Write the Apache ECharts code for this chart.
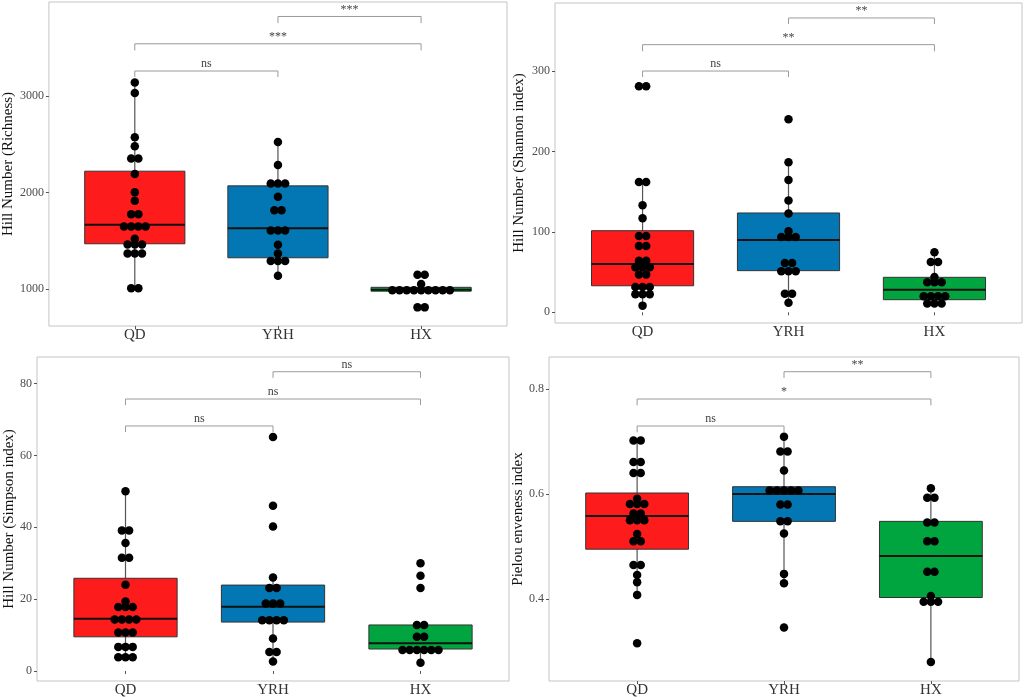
<!DOCTYPE html>
<html lang="en">
<head>
    <meta charset="UTF-8">
    <title>Hill numbers</title>
    <script type="text/javascript" src="https://cdn.jsdelivr.net/npm/echarts@6/dist/echarts.min.js"></script>
    <style>
        body{
            padding: 0px;
            margin: 0px;
            background-color: #ffffff;
        }
        #chart{
            width: 1024px;
            height: 698px;
        }
    </style>
</head>
<body>
<div id="chart"></div>
<script>
var groups = ['QD', 'YRH', 'HX'];
var boxColors = ['#fd1b1b', '#0277b4', '#01a540'];

// Richness
var richQD = [3141, 3031, 2572, 2479, 2352, 2352, 2193, 2003, 1914, 1776, 1776, 1648, 1648, 1648, 1648,
              1521, 1462, 1462, 1462, 1369, 1369, 1369, 1007, 1007];
var richYRH = [2524, 2286, 2093, 2093, 2093, 1955, 1817, 1817, 1607, 1607, 1607, 1459, 1369, 1290, 1290, 1290, 1138];
var richHX = [1148, 1148, 1052, 988, 988, 988, 988, 988, 988, 988, 988, 988, 810, 810];
// [low whisker, q1, median, q3, high whisker]
var richBox = [[1007, 1469, 1666, 2221, 3141], [1138, 1324, 1631, 2069, 2524], [978, 978, 993, 1018, 1052]];
var richSig = [[1, 2, 3259, 3197, 'ns'], [1, 3, 3541, 3472, '***'], [2, 3, 3824, 3755, '***']];
var richRange = [617, 3974];
var richTicks = [1000, 2000, 3000];

// Shannon
var shanQD = [281, 281, 162, 162, 133, 117, 95, 95, 82.5, 82.5, 64, 64, 56, 56, 56, 47, 47,
              31.5, 31.5, 31.5, 22.4, 22.4, 22.4, 8.3];
var shanYRH = [240, 186.5, 164.5, 139, 123, 100.7, 93.7, 93.7, 93.7, 61.3, 61.3, 51, 51, 51, 23.2, 23.2, 12];
var shanHX = [74.6, 62.6, 62.6, 44, 37.3, 37.3, 37.3, 20, 20, 20, 20, 10.8, 10.8, 10.8];
var shanBox = [[8.3, 33, 60, 101.5, 162], [12, 51.8, 90, 123.5, 186.5], [10.8, 15.7, 28, 43.5, 74.6]];
var shanSig = [[1, 2, 300, 292.6, 'ns'], [1, 3, 332.8, 324.5, '**'], [2, 3, 366, 358.5, '**']];
var shanRange = [-13.3, 384.6];
var shanTicks = [0, 100, 200, 300];

// Simpson
var simpQD = [50, 39.1, 39.1, 35.6, 31.5, 31.5, 24, 19.3, 17.8, 17.8, 17.8, 14.3, 14.3, 14.3, 14.3,
              10.7, 10.7, 10.7, 6.7, 6.7, 6.7, 3.8, 3.8, 3.8];
var simpYRH = [65.1, 46, 40.2, 26, 23.1, 23.1, 18.8, 18.8, 18.8, 14.1, 14.1, 14.1, 14.1, 9, 5.3, 5.3, 2.6];
var simpHX = [30, 26.5, 23.1, 12.8, 12.8, 9.5, 9.5, 5.8, 5.8, 5.8, 5.8, 5.8, 5.8, 2.3];
var simpBox = [[3.8, 9.5, 14.5, 25.8, 50], [2.6, 13.6, 17.9, 23.9, 26], [2.3, 6.1, 7.7, 12.8, 12.8]];
var simpSig = [[1, 2, 68.2, 66.5, 'ns'], [1, 3, 75.7, 74, 'ns'], [2, 3, 83.3, 81.6, 'ns']];
var simpRange = [-2.8, 87.4];
var simpTicks = [0, 20, 40, 60, 80];

// Pielou evenness
var pielQD = [0.702, 0.702, 0.661, 0.661, 0.640, 0.640, 0.591, 0.581, 0.581, 0.581, 0.563, 0.563,
              0.550, 0.550, 0.550, 0.524, 0.510, 0.510, 0.465, 0.465, 0.446, 0.432, 0.408, 0.316];
var pielYRH = [0.709, 0.681, 0.681, 0.645, 0.607, 0.607, 0.607, 0.607, 0.607, 0.580, 0.580,
               0.548, 0.548, 0.525, 0.448, 0.430, 0.346];
var pielHX = [0.611, 0.593, 0.593, 0.546, 0.546, 0.510, 0.510, 0.452, 0.452, 0.406, 0.395, 0.395, 0.395, 0.280];
var pielBox = [[0.408, 0.495, 0.558, 0.602, 0.702], [0.430, 0.548, 0.600, 0.614, 0.709], [0.280, 0.403, 0.482, 0.548, 0.611]];
var pielSig = [[1, 2, 0.7296, 0.7176, 'ns'], [1, 3, 0.781, 0.769, '*'], [2, 3, 0.833, 0.821, '**']];
var pielRange = [0.244, 0.861];
var pielTicks = [0.4, 0.6, 0.8];

var panels = [
    {title: 'Hill Number (Richness)', points: [richQD, richYRH, richHX], box: richBox, sig: richSig, range: richRange, ticks: richTicks},
    {title: 'Hill Number (Shannon index)', points: [shanQD, shanYRH, shanHX], box: shanBox, sig: shanSig, range: shanRange, ticks: shanTicks},
    {title: 'Hill Number (Simpson index)', points: [simpQD, simpYRH, simpHX], box: simpBox, sig: simpSig, range: simpRange, ticks: simpTicks},
    {title: 'Pielou enveness index', points: [pielQD, pielYRH, pielHX], box: pielBox, sig: pielSig, range: pielRange, ticks: pielTicks}
];
var layout = [
    {left: 43, top: 2, width: 464, height: 324, nameGap: 29},
    {left: 555, top: 3, width: 467, height: 320, nameGap: 28},
    {left: 37, top: 357, width: 472, height: 325, nameGap: 17},
    {left: 549, top: 357, width: 470, height: 325, nameGap: 20}
];

var FONT = "'Liberation Serif', 'Times New Roman', serif";
var BOX_WIDTH = 0.7;
var DOT_SIZE = 8.5;
var DOT_STEP = 7.2;

var chart = echarts.init(document.getElementById('chart'), null, {renderer: 'canvas'});

// dotplot: identical values are stacked sideways, centred on the group
function dotData(points) {
    var out = [];
    points.forEach(function (vals, g) {
        var counts = {};
        vals.forEach(function (v) { counts[v] = (counts[v] || 0) + 1; });
        var seen = {};
        vals.forEach(function (v) {
            var k = seen[v] || 0;
            seen[v] = k + 1;
            out.push({value: [g + 1, v], symbolOffset: [(k - (counts[v] - 1) / 2) * DOT_STEP, 0]});
        });
    });
    return out;
}

function renderBox(params, api) {
    var x = api.value(0);
    var lo = api.coord([x, api.value(1)]);
    var q1 = api.coord([x, api.value(2)]);
    var md = api.coord([x, api.value(3)]);
    var q3 = api.coord([x, api.value(4)]);
    var hi = api.coord([x, api.value(5)]);
    var hw = api.size([BOX_WIDTH, 0])[0] / 2;
    return {
        type: 'group',
        children: [
            {type: 'line', shape: {x1: lo[0], y1: lo[1], x2: hi[0], y2: hi[1]}, style: {stroke: '#555', lineWidth: 1.2}},
            {type: 'rect', shape: {x: q3[0] - hw, y: q3[1], width: hw * 2, height: q1[1] - q3[1]},
                style: {fill: boxColors[params.dataIndex], stroke: '#333', lineWidth: 1}},
            {type: 'line', shape: {x1: md[0] - hw, y1: md[1], x2: md[0] + hw, y2: md[1]}, style: {stroke: '#111', lineWidth: 2}}
        ]
    };
}

function sigRenderer(sig) {
    return function (params, api) {
        var s = sig[params.dataIndex];
        var a = api.coord([s[0], s[2]]);
        var b = api.coord([s[1], s[2]]);
        var ta = api.coord([s[0], s[3]]);
        var tb = api.coord([s[1], s[3]]);
        return {
            type: 'group',
            children: [
                {type: 'polyline', shape: {points: [ta, a, b, tb]}, style: {stroke: '#9a9a9a', lineWidth: 1, fill: null}},
                {type: 'text', x: (a[0] + b[0]) / 2, y: a[1] - 1,
                    style: {text: s[4], fill: '#444', font: '12px ' + FONT, textAlign: 'center', textVerticalAlign: 'bottom'}}
            ]
        };
    };
}

var option = {grid: [], xAxis: [], yAxis: [], series: [], animation: false};

panels.forEach(function (p, i) {
    var L = layout[i];
    option.grid.push({
        left: L.left, top: L.top, width: L.width, height: L.height,
        show: true, borderColor: '#c4c4c4', borderWidth: 1, backgroundColor: '#fff'
    });
    option.xAxis.push({
        type: 'value', gridIndex: i, min: 0.4, max: 3.6,
        axisLine: {show: false},
        splitLine: {show: false},
        axisTick: {show: true, length: 3, customValues: [1, 2, 3], lineStyle: {color: '#555'}},
        axisLabel: {
            customValues: [1, 2, 3], margin: 2,
            formatter: function (v) { return groups[Math.round(v) - 1]; },
            fontFamily: FONT, fontSize: 15, color: '#333'
        }
    });
    option.yAxis.push({
        type: 'value', gridIndex: i, min: p.range[0], max: p.range[1],
        name: p.title, nameLocation: 'middle', nameGap: L.nameGap,
        nameTextStyle: {fontFamily: FONT, fontSize: 15, color: '#111'},
        axisLine: {show: false},
        splitLine: {show: false},
        axisTick: {show: true, length: 3, customValues: p.ticks, lineStyle: {color: '#555'}},
        axisLabel: {
            customValues: p.ticks, margin: 5,
            formatter: function (v) { return String(Math.round(v * 100) / 100); },
            fontFamily: FONT, fontSize: 12, color: '#4d4d4d'
        }
    });
    option.series.push({
        type: 'custom', xAxisIndex: i, yAxisIndex: i,
        renderItem: renderBox,
        data: p.box.map(function (b, g) { return [g + 1].concat(b); }),
        z: 2
    });
    option.series.push({
        type: 'scatter', xAxisIndex: i, yAxisIndex: i,
        symbolSize: DOT_SIZE,
        itemStyle: {color: '#000', opacity: 1},
        data: dotData(p.points),
        z: 3
    });
    option.series.push({
        type: 'custom', xAxisIndex: i, yAxisIndex: i,
        renderItem: sigRenderer(p.sig),
        data: p.sig.map(function (s) { return [s[0], s[2]]; }),
        z: 4
    });
});

chart.setOption(option);
</script>
</body>
</html>
